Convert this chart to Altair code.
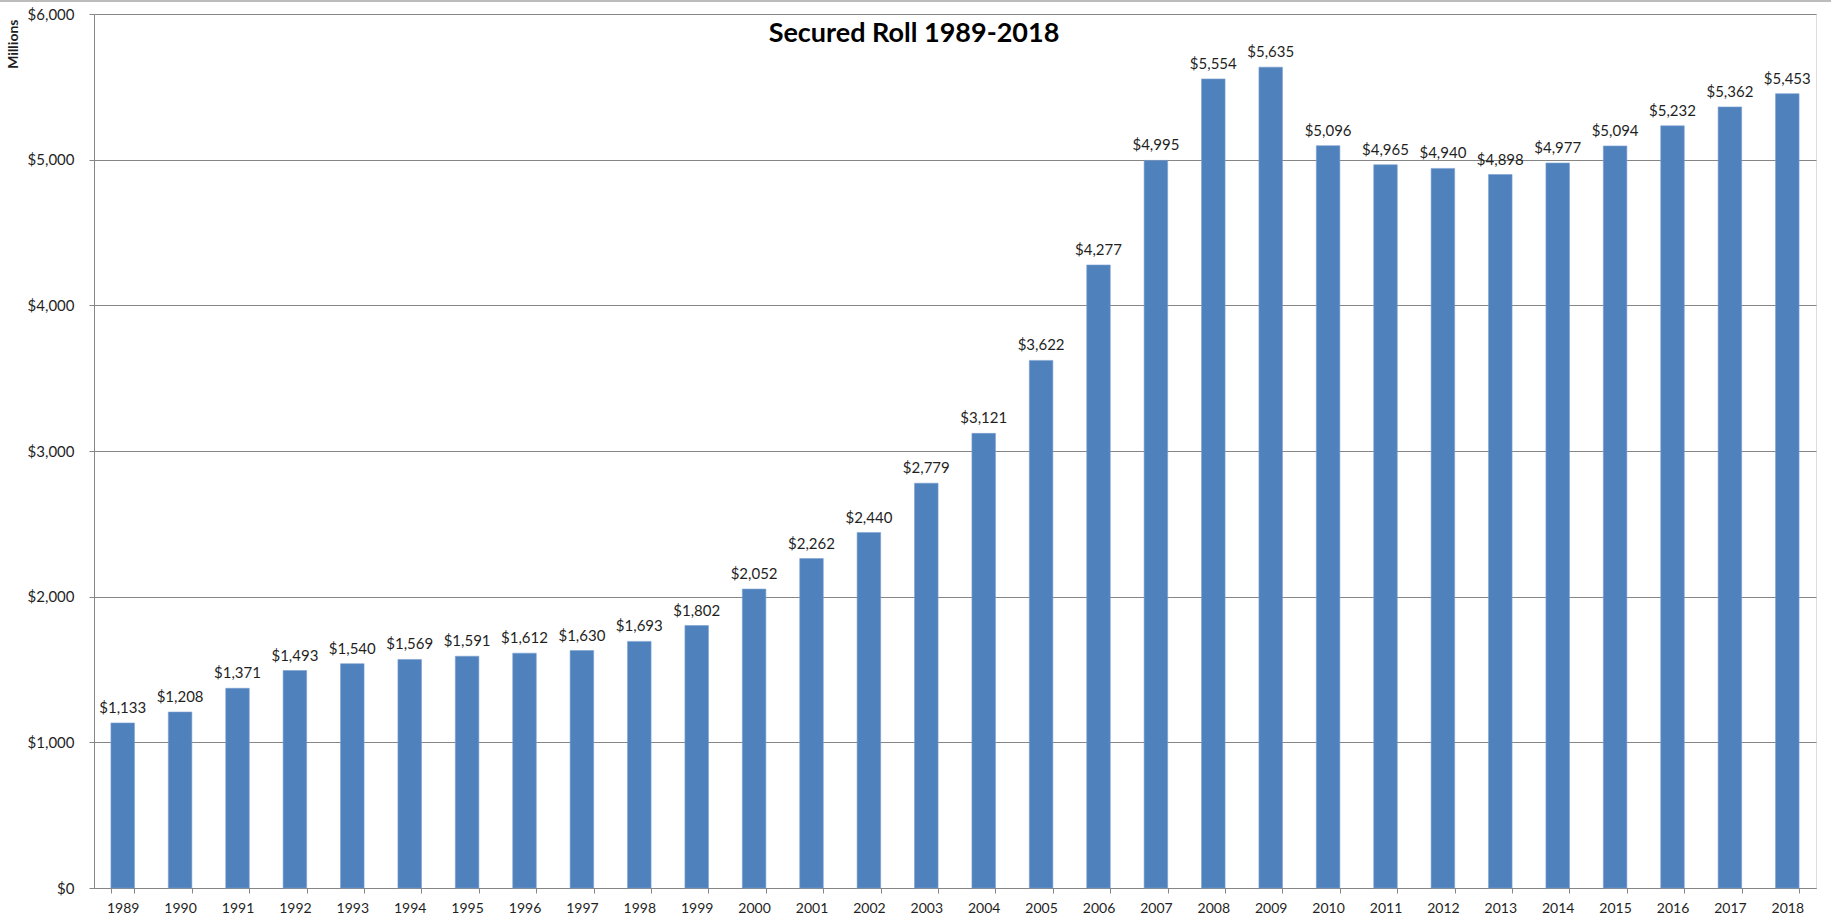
import altair as alt
import pandas as pd

# Secured roll values by year, in millions of dollars
years = [1989, 1990, 1991, 1992, 1993, 1994, 1995, 1996, 1997, 1998,
         1999, 2000, 2001, 2002, 2003, 2004, 2005, 2006, 2007, 2008,
         2009, 2010, 2011, 2012, 2013, 2014, 2015, 2016, 2017, 2018]
values = [1133, 1208, 1371, 1493, 1540, 1569, 1591, 1612, 1630, 1693,
          1802, 2052, 2262, 2440, 2779, 3121, 3622, 4277, 4995, 5554,
          5635, 5096, 4965, 4940, 4898, 4977, 5094, 5232, 5362, 5453]
y_ticks = [0, 1000, 2000, 3000, 4000, 5000, 6000]
chart_title = "Secured Roll 1989-2018"

W, H = 1722, 874
FONT = "Lato"
GRID = "#868686"
BAR = "#4F81BD"
TEXT = "#1f1f1f"

df = pd.DataFrame({"year": years, "value": values})

x_enc = alt.X(
    "year:O",
    scale=alt.Scale(paddingInner=0.59, paddingOuter=0.295),
    axis=alt.Axis(
        title=None, labelAngle=0, tickBand="extent", tickSize=5,
        tickColor=GRID, domainColor=GRID, labelPadding=8,
        labelFontSize=14, labelFont=FONT, labelColor=TEXT, grid=False,
    ),
)
y_enc = alt.Y(
    "value:Q",
    scale=alt.Scale(domain=[0, 6000], nice=False, zero=True),
    axis=alt.Axis(
        values=y_ticks, format="$,.0f", grid=True, gridColor=GRID,
        gridWidth=1, domainColor=GRID, tickColor=GRID, tickSize=5,
        labelPadding=15, labelFontSize=15, labelFont=FONT, labelColor=TEXT,
        title="Millions", titleFont=FONT, titleFontSize=14,
        titleFontWeight="bold", titleColor=TEXT, titleAngle=-90,
        titleX=-81, titleY=5, titleAlign="right", titleBaseline="middle",
    ),
)

base = alt.Chart(df)

bars = base.mark_bar(color=BAR, stroke="#7aa0d0", strokeWidth=0.6).encode(
    x=x_enc, y=y_enc
)

labels = base.mark_text(
    baseline="alphabetic", dy=-10, fontSize=15, font=FONT, color=TEXT
).encode(
    x=alt.X("year:O"),
    y=alt.Y("value:Q"),
    text=alt.Text("value:Q", format="$,.0f"),
)

title = alt.Chart(pd.DataFrame({"t": [chart_title]})).mark_text(
    fontSize=27, fontWeight="bold", font=FONT, color="#000000",
    align="center", baseline="alphabetic",
).encode(x=alt.value(820), y=alt.value(28), text="t:N")

# thin frame line along the top edge of the figure
frame = alt.Chart(pd.DataFrame({"k": [0]})).mark_rule(
    color="#a6a6a6", strokeWidth=1.5
).encode(x=alt.value(-94), x2=alt.value(W + 15), y=alt.value(-13))

chart = (
    alt.layer(bars, labels, title, frame)
    .properties(
        width=W, height=H, autosize="none",
        padding={"left": 94, "top": 14, "right": 15, "bottom": 32},
    )
    .configure_view(stroke=None)
    .configure(background="white")
)

chart.save("out.html", embed_options={"renderer": "svg", "actions": False})
